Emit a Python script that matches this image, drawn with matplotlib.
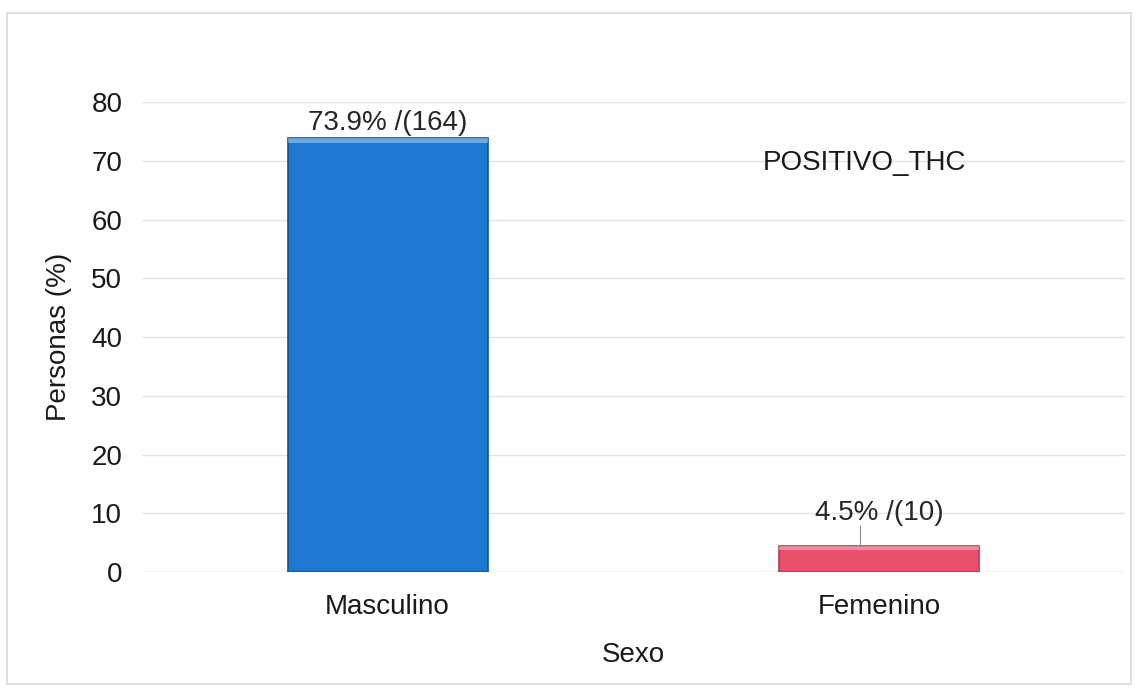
import numpy as np
import matplotlib.pyplot as plt
from matplotlib.patches import Rectangle

plt.rcParams['font.family'] = ['Liberation Sans', 'DejaVu Sans']

# porcentaje de positivos a THC por sexo
categorias = ['Masculino', 'Femenino']
porcentajes = [73.9, 4.5]
casos = [164, 10]
colores = ['#1f78d0', '#e8506e']
bordes = ['#15568f', '#b83a52']
y_ticks = [0, 10, 20, 30, 40, 50, 60, 70, 80]

fig = plt.figure(figsize=(11.38, 6.88), dpi=100)
fig.patch.set_facecolor('white')
# marco exterior del grafico
fig.add_artist(Rectangle((0.006, 0.006), 0.988, 0.975, transform=fig.transFigure,
                         fill=False, edgecolor='#d9d9d9', linewidth=1.2))

ax = fig.add_axes([0.1246, 0.1686, 0.864, 0.683])
x = np.arange(len(categorias))
bars = ax.bar(x, porcentajes, width=0.407, color=colores, edgecolor=bordes,
              linewidth=1.2, zorder=3)

# brillo superior de cada barra
for b in bars:
    h = b.get_height()
    ax.add_patch(Rectangle((b.get_x(), h - 0.8), b.get_width(), 0.8,
                           facecolor='white', alpha=0.35, edgecolor='none', zorder=4))

# etiquetas de datos; la de Femenino va separada con linea guia
desfase = [0.3, 3.4]
for xi, p, n, d in zip(x, porcentajes, casos, desfase):
    ax.text(xi, p + d, f'{p}% /({n})', ha='center', va='bottom',
            fontsize=20, color='#262626', zorder=5)
    if d > 1:
        ax.plot([xi - 0.04, xi - 0.04], [p, p + d], color='#8a8a8a',
                linewidth=0.8, zorder=5)

ax.set_xlim(-0.5, 1.5)
ax.set_ylim(0, 80)
ax.set_yticks(y_ticks)
ax.set_xticks(x)
ax.set_xticklabels(categorias)
ax.tick_params(axis='both', length=0, labelsize=20, colors='#1a1a1a')
ax.tick_params(axis='y', pad=14)
ax.tick_params(axis='x', pad=16)
ax.grid(axis='y', color='#e3e3e3', linewidth=1, zorder=0)
for s in ax.spines.values():
    s.set_visible(False)
ax.axhline(0, color='#d9d9d9', linewidth=1, zorder=2)

ax.set_ylabel('Personas (%)', fontsize=20, labelpad=14, color='#1a1a1a')
ax.set_xlabel('Sexo', fontsize=20, labelpad=16, color='#1a1a1a')

ax.text(0.735, 0.87, 'POSITIVO_THC', transform=ax.transAxes, ha='center',
        va='center', fontsize=20, color='#1a1a1a')

fig.savefig('out.png', dpi=100, facecolor='white')
